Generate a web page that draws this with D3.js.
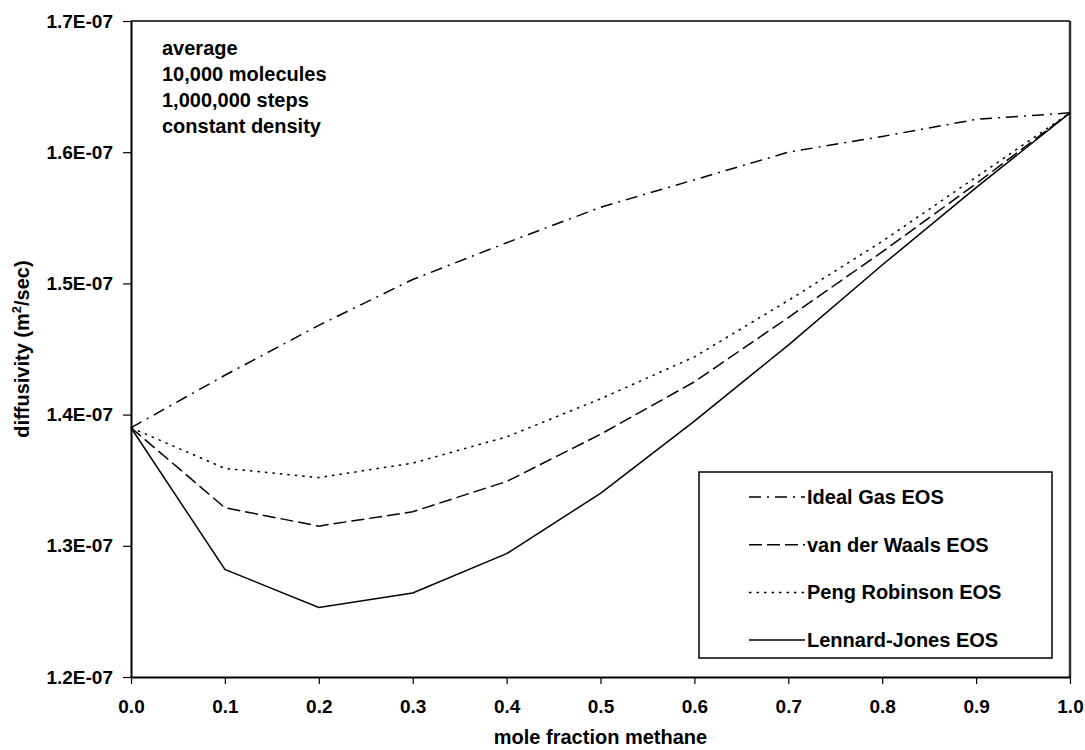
<!DOCTYPE html>
<html lang="en">
<head>
    <meta charset="UTF-8">
    <title>Diffusivity vs mole fraction methane</title>
    <script src="https://d3js.org/d3.v7.min.js"></script>
    <style>
        body {
            margin: 0;
            background-color: white;
            font-family: "Liberation Sans", Arial, sans-serif;
        }
        svg text {
            font-weight: bold;
            fill: #000;
        }
    </style>
</head>
<body>
    <div id="chart_div"></div>

    <script>
        // Data
        const moleFraction = [0.0, 0.1, 0.2, 0.3, 0.4, 0.5, 0.6, 0.7, 0.8, 0.9, 1.0];
        const idealGas     = [1.390e-7, 1.430e-7, 1.468e-7, 1.503e-7, 1.531e-7, 1.558e-7, 1.579e-7, 1.600e-7, 1.612e-7, 1.625e-7, 1.630e-7];
        const vanDerWaals  = [1.390e-7, 1.329e-7, 1.315e-7, 1.326e-7, 1.349e-7, 1.385e-7, 1.425e-7, 1.474e-7, 1.524e-7, 1.576e-7, 1.630e-7];
        const pengRobinson = [1.390e-7, 1.359e-7, 1.352e-7, 1.363e-7, 1.383e-7, 1.412e-7, 1.444e-7, 1.487e-7, 1.532e-7, 1.581e-7, 1.630e-7];
        const lennardJones = [1.390e-7, 1.282e-7, 1.253e-7, 1.264e-7, 1.294e-7, 1.340e-7, 1.395e-7, 1.453e-7, 1.514e-7, 1.573e-7, 1.630e-7];

        const seriesNames = ["Ideal Gas EOS", "van der Waals EOS", "Peng Robinson EOS", "Lennard-Jones EOS"];
        const xTicks = [0.0, 0.1, 0.2, 0.3, 0.4, 0.5, 0.6, 0.7, 0.8, 0.9, 1.0];
        const yTicks = [1.2e-7, 1.3e-7, 1.4e-7, 1.5e-7, 1.6e-7, 1.7e-7];
        const notes = ["average", "10,000 molecules", "1,000,000 steps", "constant density"];

        const width = 1085;
        const height = 750;
        const margin = { top: 21, right: 15, bottom: 73, left: 131 };

        // dash patterns for each series, same order as seriesNames
        const dashes = ["12,6,2,6", "13,5", "2.5,5", null];

        const svg = d3.select("#chart_div")
            .append("svg")
            .attr("width", width)
            .attr("height", height);

        const x = d3.scaleLinear()
            .domain([0, 1])
            .range([margin.left, width - margin.right]);

        const y = d3.scaleLinear()
            .domain([1.2e-7, 1.7e-7])
            .range([height - margin.bottom, margin.top]);

        // Plot frame: top and right
        svg.append("line")
            .attr("x1", x(0)).attr("x2", x(1))
            .attr("y1", y(1.7e-7)).attr("y2", y(1.7e-7))
            .attr("stroke", "#000")
            .attr("stroke-width", 1.5);

        svg.append("line")
            .attr("x1", x(1)).attr("x2", x(1))
            .attr("y1", y(1.7e-7)).attr("y2", y(1.2e-7))
            .attr("stroke", "#333")
            .attr("stroke-width", 2.5);

        // Axes
        const xAxis = svg.append("g")
            .attr("transform", `translate(0, ${y(1.2e-7)})`)
            .call(d3.axisBottom(x)
                .tickValues(xTicks)
                .tickFormat(d3.format(".1f"))
                .tickSize(7)
                .tickSizeOuter(0)
                .tickPadding(16));

        const yAxis = svg.append("g")
            .attr("transform", `translate(${x(0)}, 0)`)
            .call(d3.axisLeft(y)
                .tickValues(yTicks)
                .tickFormat(d => (d * 1e7).toFixed(1) + "E-07")
                .tickSize(8)
                .tickSizeOuter(0)
                .tickPadding(10));

        [xAxis, yAxis].forEach(g => {
            g.select(".domain").attr("stroke", "#000").attr("stroke-width", 2);
            g.selectAll(".tick line").attr("stroke", "#000").attr("stroke-width", 1.2);
            g.selectAll(".tick text")
                .attr("font-family", "'Liberation Sans', Arial, sans-serif")
                .attr("font-size", 19)
                .attr("font-weight", "bold")
                .attr("fill", "#000");
        });

        // Axis titles
        svg.append("text")
            .attr("x", (x(0) + x(1)) / 2)
            .attr("y", 744)
            .attr("text-anchor", "middle")
            .attr("font-size", 20)
            .text("mole fraction methane");

        const yTitle = svg.append("text")
            .attr("transform", `translate(29, ${(y(1.2e-7) + y(1.7e-7)) / 2}) rotate(-90)`)
            .attr("text-anchor", "middle")
            .attr("font-size", 20);
        yTitle.append("tspan").text("diffusivity (m");
        yTitle.append("tspan").attr("font-size", 13).attr("dy", -8).text("2");
        yTitle.append("tspan").attr("dy", 8).text("/sec)");

        // Lines
        const allSeries = [idealGas, vanDerWaals, pengRobinson, lennardJones];

        const line = d3.line()
            .x((d, i) => x(moleFraction[i]))
            .y(d => y(d));

        allSeries.forEach((values, i) => {
            svg.append("path")
                .datum(values)
                .attr("d", line)
                .attr("fill", "none")
                .attr("stroke", "#000")
                .attr("stroke-width", 1.5)
                .attr("stroke-dasharray", dashes[i]);
        });

        // Notes in the top left corner
        const noteText = svg.append("text")
            .attr("font-size", 20);
        notes.forEach((t, i) => {
            noteText.append("tspan")
                .attr("x", 162)
                .attr("y", 55 + i * 26)
                .text(t);
        });

        // Legend
        const legend = svg.append("g")
            .attr("transform", "translate(699, 472)");

        legend.append("rect")
            .attr("width", 353)
            .attr("height", 186)
            .attr("fill", "white")
            .attr("stroke", "#000")
            .attr("stroke-width", 1.5);

        seriesNames.forEach((name, i) => {
            const rowY = 25 + i * 47.7;
            legend.append("line")
                .attr("x1", 50).attr("x2", 106)
                .attr("y1", rowY).attr("y2", rowY)
                .attr("stroke", "#000")
                .attr("stroke-width", 1.5)
                .attr("stroke-dasharray", dashes[i]);
            legend.append("text")
                .attr("x", 108)
                .attr("y", rowY + 7)
                .attr("font-size", 20)
                .text(name);
        });
    </script>
</body>
</html>
